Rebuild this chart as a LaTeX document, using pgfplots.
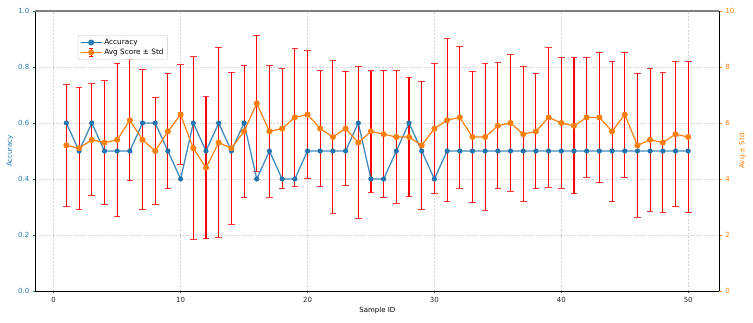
\documentclass[border=0pt]{standalone}
\usepackage{fontspec}
\setmainfont{DejaVu Sans}
\usepackage{pgfplots}
\pgfplotsset{compat=1.18}
\usepackage{pgfplotstable}
\definecolor{mblue}{HTML}{1F77B4}
\definecolor{morange}{HTML}{FF7F0E}
\definecolor{gridc}{HTML}{D4D4D4}

\pgfplotsset{
  base/.style={at={(0,0)}, anchor=south west,
    width=684pt, height=280pt, scale only axis,
    xmin=-1.45, xmax=52.45},
  hidden/.style={axis lines=none, ticks=none},
  leglinemark/.style={legend image code/.code={\draw[mark repeat=2,mark phase=2,##1] plot coordinates {(0cm,0cm)(0.37cm,0cm)(0.74cm,0cm)};}},
  legerr/.style={legend image code/.code={%
    \draw[red, line width=1pt] (0.37cm,-0.14cm)--(0.37cm,0.14cm) (0.3cm,-0.14cm)--(0.44cm,-0.14cm) (0.3cm,0.14cm)--(0.44cm,0.14cm);
    \draw[mark repeat=2,mark phase=2,##1] plot coordinates {(0cm,0cm)(0.37cm,0cm)(0.74cm,0cm)};}},
}

\pgfplotstableread{
id acc avg std
1 0.6 5.2 2.17
2 0.5 5.1 2.18
3 0.6 5.4 2.0
4 0.5 5.3 2.2
5 0.5 5.4 2.73
6 0.5 6.1 2.16
7 0.6 5.4 2.5
8 0.6 5.0 1.92
9 0.5 5.7 2.05
10 0.4 6.3 1.78
11 0.6 5.1 3.27
12 0.5 4.4 2.53
13 0.6 5.3 3.38
14 0.5 5.1 2.71
15 0.6 5.7 2.37
16 0.4 6.7 2.44
17 0.5 5.7 2.36
18 0.4 5.8 2.14
19 0.4 6.2 2.47
20 0.5 6.3 2.28
21 0.5 5.8 2.06
22 0.5 5.5 2.73
23 0.5 5.8 2.04
24 0.6 5.3 2.70
25 0.4 5.7 2.17
26 0.4 5.6 2.26
27 0.5 5.5 2.37
28 0.6 5.5 2.13
29 0.5 5.2 2.29
30 0.4 5.8 2.32
31 0.5 6.1 2.91
32 0.5 6.2 2.53
33 0.5 5.5 2.34
34 0.5 5.5 2.62
35 0.5 5.9 2.25
36 0.5 6.0 2.43
37 0.5 5.6 2.40
38 0.5 5.7 2.05
39 0.5 6.2 2.49
40 0.5 6.0 2.33
41 0.5 5.9 2.43
42 0.5 6.2 2.13
43 0.5 6.2 2.33
44 0.5 5.7 2.51
45 0.5 6.3 2.23
46 0.5 5.2 2.57
47 0.5 5.4 2.56
48 0.5 5.3 2.51
49 0.5 5.6 2.60
50 0.5 5.5 2.69
}\data

\begin{document}
\begin{tikzpicture}[font=\fontsize{7}{8.4}\selectfont]
% frame, grid and left axis
\begin{axis}[
  base, ymin=0, ymax=1,
  axis x line*=bottom, axis y line*=left,
  axis line style={black, line width=0.8pt},
  xtick={0,10,20,30,40,50},
  ytick={0,0.2,0.4,0.6,0.8,1},
  /pgf/number format/assume math mode=true,
  yticklabel style={text=mblue, /pgf/number format/.cd, fixed, fixed zerofill, precision=1},
  xticklabel style={text=black!85},
  tick align=outside, major tick length=2.5pt,
  xtick style={black!70, line width=0.6pt},
  ytick style={mblue, line width=0.6pt},
  grid=major,
  grid style={gridc, dash pattern=on 2pt off 1.5pt, line width=0.5pt},
  xlabel={Sample ID},
  ylabel={Accuracy},
  ylabel style={text=mblue, yshift=-2pt},
  xlabel style={yshift=2pt},
]
\addplot[draw=none, mark=none, forget plot] coordinates {(1,0)};
\end{axis}

% right axis with error bars
\begin{axis}[
  base, ymin=0, ymax=10,
  axis x line=none, axis y line*=right,
  axis line style={black, line width=0.8pt},
  ytick={0,2,4,6,8,10},
  /pgf/number format/assume math mode=true,
  yticklabel style={text=morange},
  tick align=outside, major tick length=2.5pt,
  ytick style={morange, line width=0.6pt},
  ylabel={Avg ± Std},
  ylabel style={text=morange, yshift=2pt},
]
\addplot[forget plot, red, only marks, mark=none,
  error bars/.cd, y dir=both, y explicit,
  error bar style={red, line width=1.1pt},
  error mark options={rotate=90, red, mark size=3.3pt, line width=1pt, opacity=0.8}]
  table[x=id, y=avg, y error=std]{\data};
\draw[gray, line width=1.5pt] (rel axis cs:0,1) -- (rel axis cs:1,1);
\end{axis}

% accuracy line (left scale)
\begin{axis}[base, hidden, ymin=0, ymax=1]
\addplot[mblue, line width=1.3pt, draw opacity=0.85, mark=*, mark size=2.3pt,
  mark options={fill=mblue, draw=mblue!85!black, line width=0.4pt, opacity=1}]
  table[x=id, y=acc]{\data};
\end{axis}

% average line (right scale) and legend
\begin{axis}[base, hidden, ymin=0, ymax=10,
  legend style={at={(0.0624,0.914)}, anchor=north west,
    draw=black!20, rounded corners=2pt, fill=white, fill opacity=0.8, text opacity=1,
    font=\fontsize{7.3}{8.6}\selectfont, inner sep=1.8pt, row sep=-1pt},
  legend cell align=left,
]
\addlegendimage{mblue, line width=1.3pt, mark=*, mark size=2.3pt, mark options={fill=mblue}, leglinemark}
\addlegendentry{Accuracy}
\addplot[morange, line width=1.2pt, mark=*, mark size=2.4pt, mark options={fill=morange}, legerr]
  table[x=id, y=avg]{\data};
\addlegendentry{Avg Score ± Std}
\end{axis}
\pgfresetboundingbox
\useasboundingbox (-35.3pt,-32pt) rectangle (717.7pt,291pt);
\end{tikzpicture}
\end{document}
